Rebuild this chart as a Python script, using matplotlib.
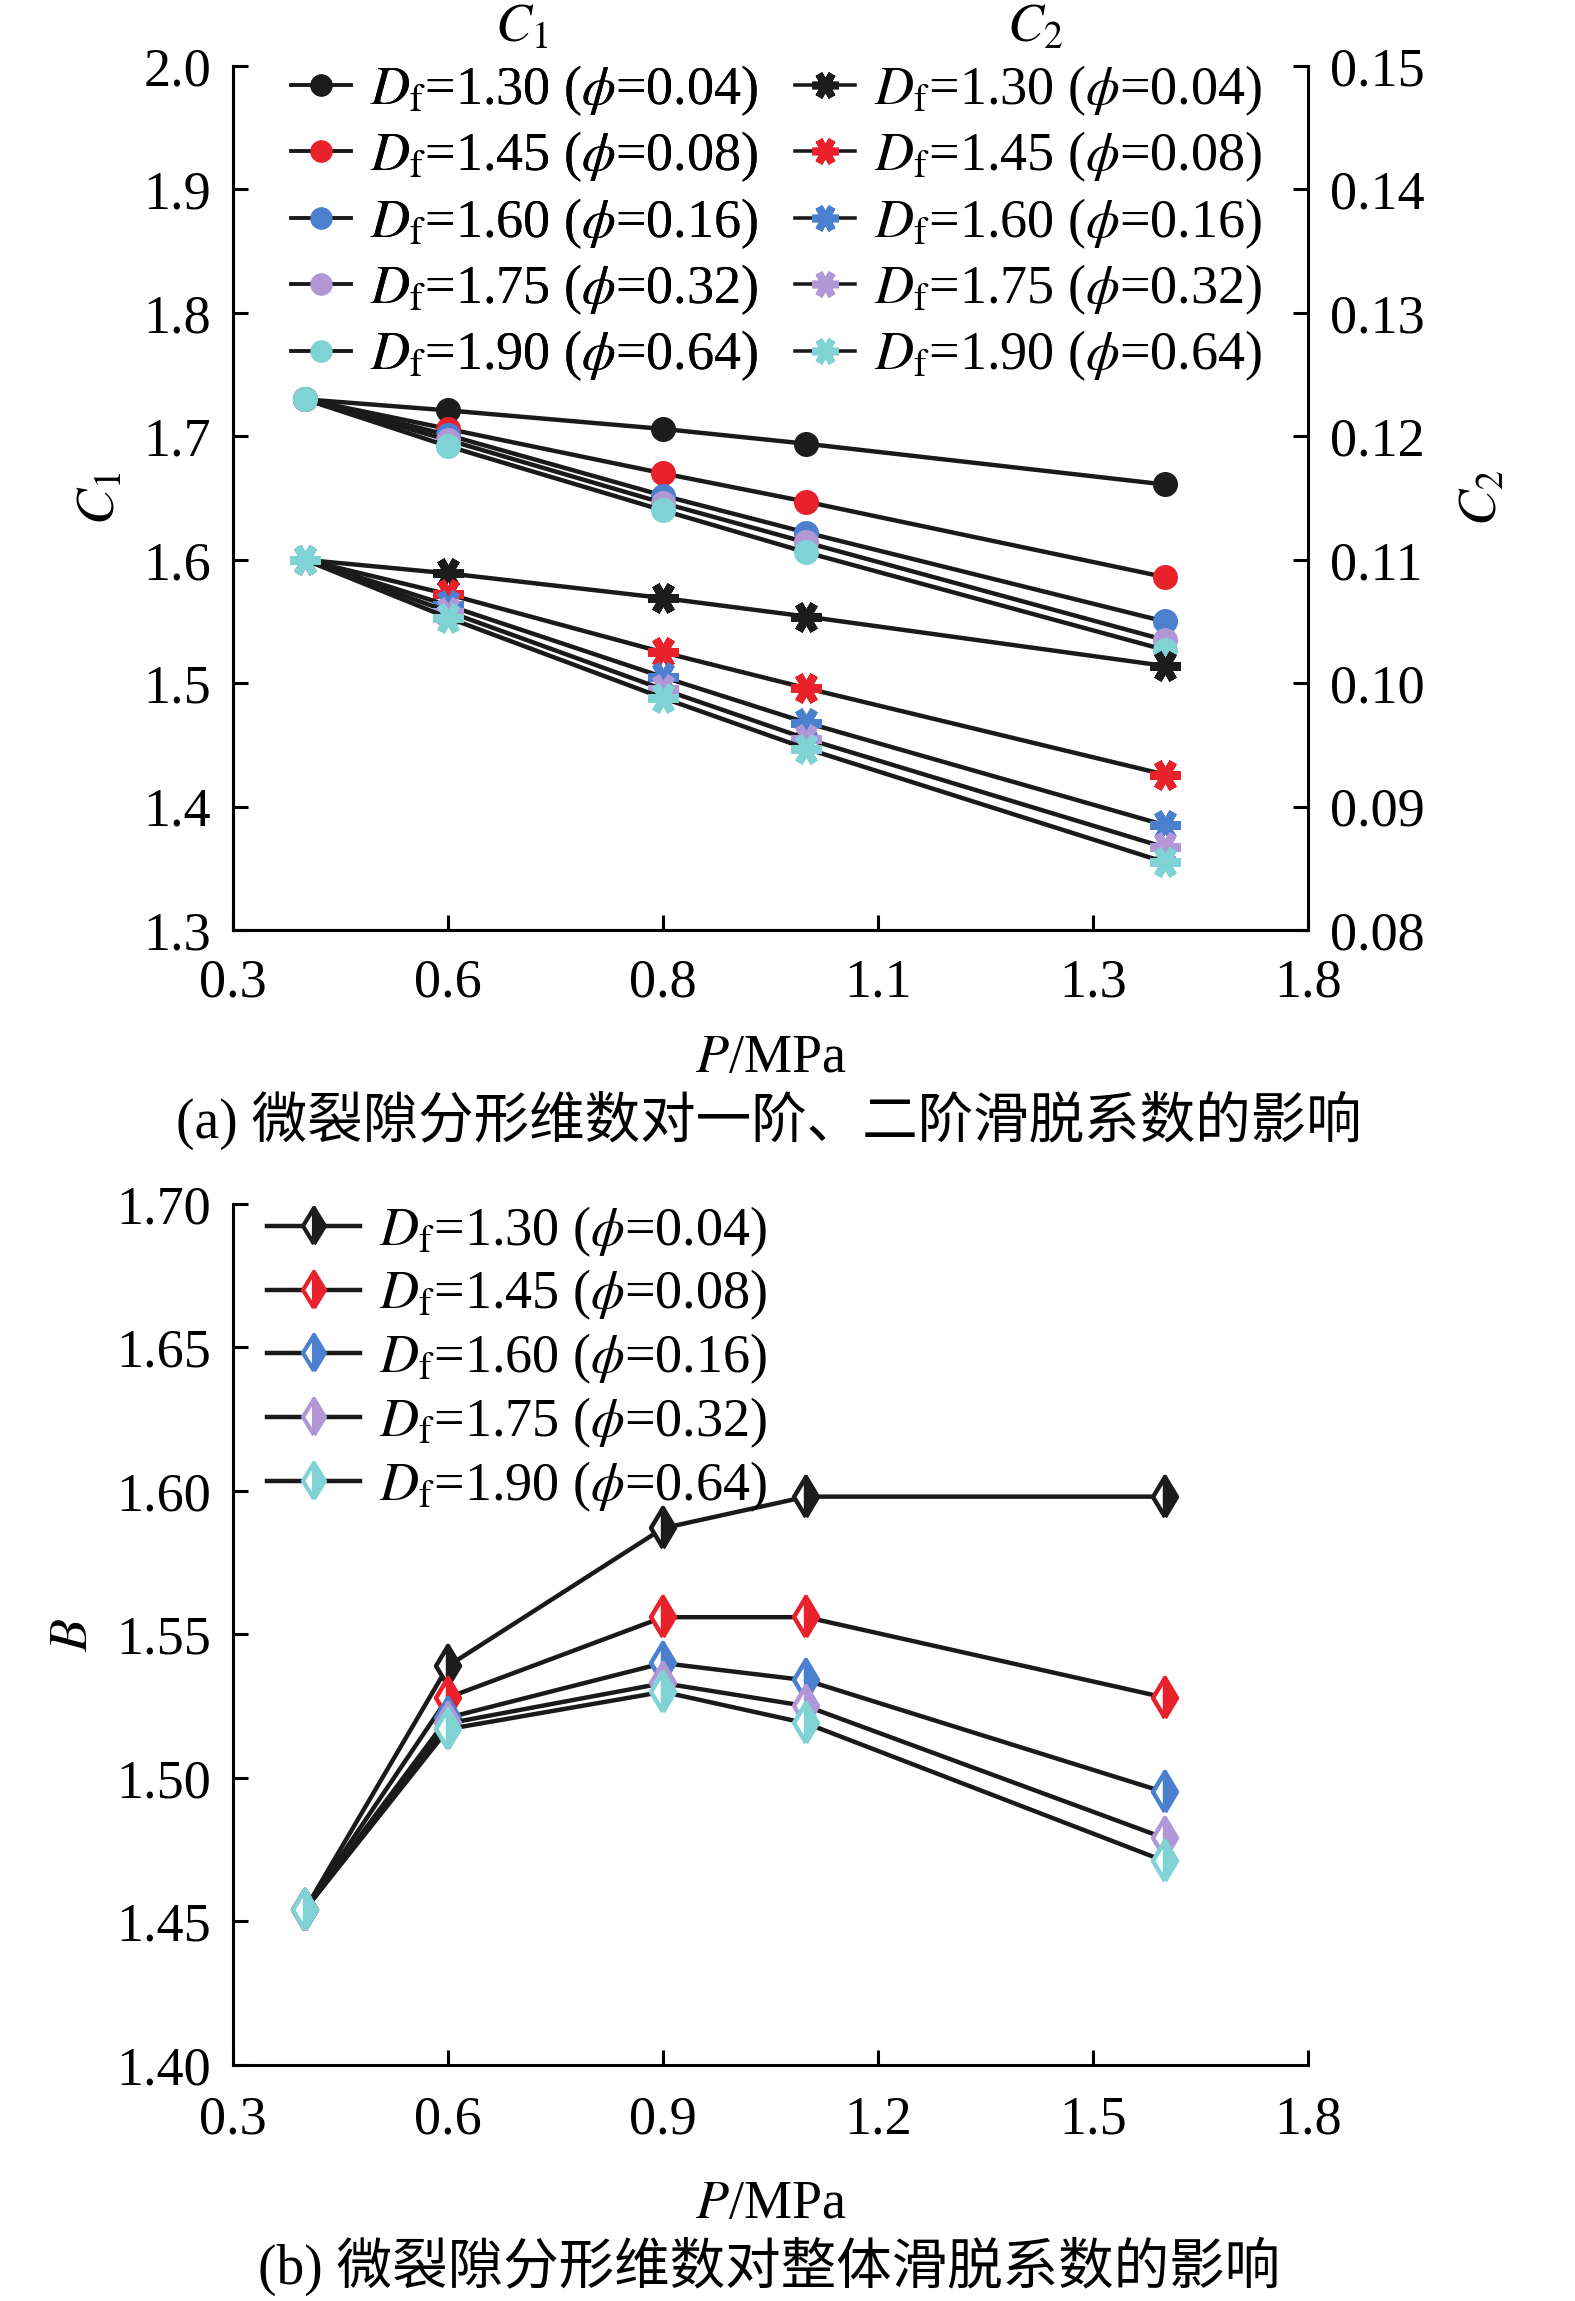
import matplotlib
matplotlib.use("Agg")
import matplotlib.pyplot as plt
from matplotlib.lines import Line2D
from matplotlib.markers import MarkerStyle

plt.rcParams['font.family'] = ['Liberation Serif', 'Noto Sans CJK SC']
plt.rcParams['mathtext.fontset'] = 'stix'

# ---------------- data ----------------
P = [0.4, 0.6, 0.9, 1.1, 1.6]
labels = [r'$D_\mathrm{f}$=1.30 ($\phi$=0.04)',
          r'$D_\mathrm{f}$=1.45 ($\phi$=0.08)',
          r'$D_\mathrm{f}$=1.60 ($\phi$=0.16)',
          r'$D_\mathrm{f}$=1.75 ($\phi$=0.32)',
          r'$D_\mathrm{f}$=1.90 ($\phi$=0.64)']
colors = ['#1c1c1c', '#e8212b', '#4b80cf', '#b197d5', '#7fd3d4']

C1_130 = [1.730, 1.721, 1.706, 1.694, 1.661]
C1_145 = [1.730, 1.706, 1.670, 1.647, 1.586]
C1_160 = [1.730, 1.701, 1.652, 1.622, 1.550]
C1_175 = [1.730, 1.697, 1.646, 1.614, 1.535]
C1_190 = [1.730, 1.692, 1.640, 1.606, 1.527]
C1 = [C1_130, C1_145, C1_160, C1_175, C1_190]

C2_130 = [0.1100, 0.1089, 0.1069, 0.1054, 0.1014]
C2_145 = [0.1100, 0.1072, 0.1025, 0.0996, 0.0926]
C2_160 = [0.1100, 0.1063, 0.1005, 0.0968, 0.0885]
C2_175 = [0.1100, 0.1058, 0.0995, 0.0955, 0.0867]
C2_190 = [0.1100, 0.1053, 0.0988, 0.0947, 0.0855]
C2 = [C2_130, C2_145, C2_160, C2_175, C2_190]

B_130 = [1.454, 1.539, 1.587, 1.598, 1.598]
B_145 = [1.454, 1.528, 1.556, 1.556, 1.528]
B_160 = [1.454, 1.521, 1.540, 1.534, 1.495]
B_175 = [1.454, 1.519, 1.533, 1.525, 1.479]
B_190 = [1.454, 1.517, 1.530, 1.519, 1.471]
B = [B_130, B_145, B_160, B_175, B_190]

xticks = [0.3, 0.6, 0.9, 1.2, 1.5, 1.8]
xticklabels_a = ['0.3', '0.6', '0.8', '1.1', '1.3', '1.8']
xticklabels_b = ['0.3', '0.6', '0.9', '1.2', '1.5', '1.8']
c1_ticks = [1.3, 1.4, 1.5, 1.6, 1.7, 1.8, 1.9, 2.0]
c2_ticks = [0.08, 0.09, 0.10, 0.11, 0.12, 0.13, 0.14, 0.15]
b_ticks = [1.40, 1.45, 1.50, 1.55, 1.60, 1.65, 1.70]

# ---------------- style ----------------
FS = 39
LFS = 39
CFS = 40
LW = 3.2
SPW = 2.2
fig = plt.figure(figsize=(15.75, 23.01), dpi=100)

def style_axis(ax, xpad=16):
    ax.tick_params(direction='in', length=11, width=SPW, labelsize=FS, pad=16)
    ax.tick_params(axis='x', pad=xpad)
    for s in ax.spines.values():
        s.set_linewidth(SPW)
    ax.spines['top'].set_visible(False)

star = (6, 2, 90)

def diamond():
    return MarkerStyle('d', fillstyle='right', joinstyle='round')

# ---------------- panel (a) ----------------
ax = fig.add_axes([0.148, 0.5958, 0.6825, 0.3755])
ax2 = ax.twinx()
for ys, c in zip(C1, colors):
    ax.plot(P, ys, color='#1a1a1a', lw=LW, marker='o', ms=17, mfc=c, mec=c, zorder=3)
for ys, c in zip(C2, colors):
    ax2.plot(P, ys, color='#1a1a1a', lw=LW, marker=star, ms=22, mfc=c, mec=c, mew=6, zorder=3)
ax.set_xlim(0.3, 1.8)
ax.set_ylim(1.3, 2.0)
ax2.set_ylim(0.08, 0.15)
ax.set_xticks(xticks)
ax.set_xticklabels(xticklabels_a)
ax.set_yticks(c1_ticks)
ax.set_yticklabels([f'{v:.1f}' for v in c1_ticks])
ax2.set_yticks(c2_ticks)
ax2.set_yticklabels([f'{v:.2f}' for v in c2_ticks])
style_axis(ax, xpad=20)
style_axis(ax2)
ax.spines['right'].set_visible(False)
ax.set_xlabel(r'$P$/MPa', fontsize=FS, labelpad=18)
ax.set_ylabel(r'$C_1$', fontsize=FS, labelpad=12)
ax2.set_ylabel(r'$C_2$', fontsize=FS, labelpad=24, rotation=90)

h1 = [Line2D([], [], color='#1a1a1a', lw=LW*0.8, marker='o', ms=15, mfc=c, mec=c) for c in colors]
h2 = [Line2D([], [], color='#1a1a1a', lw=LW*0.8, marker=star, ms=19, mfc=c, mec=c, mew=5.5) for c in colors]
leg1 = ax.legend(h1, labels, loc='center left', bbox_to_anchor=(0.054, 0.818), frameon=False,
                 fontsize=LFS, handlelength=1.1, handletextpad=0.35, labelspacing=0.22,
                 borderpad=0, borderaxespad=0)
ax.add_artist(leg1)
leg2 = ax2.legend(h2, labels, loc='center left', bbox_to_anchor=(0.523, 0.818), frameon=False,
                  fontsize=LFS, handlelength=1.1, handletextpad=0.35, labelspacing=0.22,
                  borderpad=0, borderaxespad=0)
fig.text(522/1575, 1-29/2301, r'$C_1$', fontsize=FS, ha='center', va='center')
fig.text(1035/1575, 1-29/2301, r'$C_2$', fontsize=FS, ha='center', va='center')
fig.text(769/1575, 1-1120/2301, '(a) 微裂隙分形维数对一阶、二阶滑脱系数的影响',
         fontsize=CFS, ha='center', va='center')

# ---------------- panel (b) ----------------
bx = fig.add_axes([0.148, 0.1026, 0.6825, 0.3742])
for ys, c in zip(B, colors):
    bx.plot(P, ys, color='#1a1a1a', lw=LW, marker=diamond(), ms=20, mec=c, mew=3.2,
            mfc=c, mfcalt='white', zorder=3)
bx.set_xlim(0.3, 1.8)
bx.set_ylim(1.40, 1.70)
bx.set_xticks(xticks)
bx.set_xticklabels(xticklabels_b)
bx.set_yticks(b_ticks)
bx.set_yticklabels([f'{v:.2f}' for v in b_ticks])
style_axis(bx, xpad=22)
bx.spines['right'].set_visible(False)
bx.set_xlabel(r'$P$/MPa', fontsize=FS, labelpad=24)
bx.set_ylabel(r'$B$', fontsize=FS, labelpad=12)
hb = [Line2D([], [], color='#1a1a1a', lw=LW, marker=diamond(), ms=18, mec=c, mew=3,
             mfc=c, mfcalt='white') for c in colors]
bx.legend(hb, labels, loc='center left', bbox_to_anchor=(0.032, 0.82), frameon=False,
          fontsize=LFS, handlelength=1.7, handletextpad=0.35, labelspacing=0.17,
          borderpad=0, borderaxespad=0)
fig.text(769/1575, 1-2266/2301, '(b) 微裂隙分形维数对整体滑脱系数的影响',
         fontsize=CFS, ha='center', va='center')

fig.savefig('out.png', dpi=100)
